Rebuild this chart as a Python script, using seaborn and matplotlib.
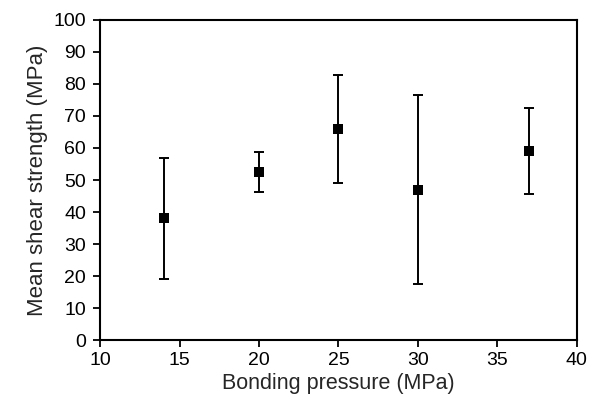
import matplotlib
matplotlib.use("Agg")
import matplotlib.pyplot as plt
import pandas as pd
import seaborn as sns

pressure = [14, 20, 25, 30, 37]
strength = [38, 52.5, 66, 47, 59]
spread = [19, 6.3, 16.8, 29.5, 13.5]

df = pd.DataFrame({"pressure": pressure, "strength": strength, "spread": spread})

sns.set_style("ticks")
plt.rcParams["font.family"] = ["Liberation Sans", "DejaVu Sans"]

fig = plt.figure(figsize=(5.99, 4.05), dpi=100)
ax = fig.add_axes([0.167, 0.160, 0.796, 0.791])

ax.errorbar(df.pressure, df.strength, yerr=df.spread, fmt="none",
            ecolor="black", elinewidth=1.4, capsize=3.3, capthick=1.4, zorder=2)
sns.scatterplot(data=df, x="pressure", y="strength", marker="s", s=42,
                color="black", edgecolor="black", linewidth=0, ax=ax, zorder=3)

ax.set_xlim(10, 40)
ax.set_ylim(0, 100)
ax.set_xticks(range(10, 41, 5))
ax.set_yticks(range(0, 101, 10))
ax.set_xlabel("Bonding pressure (MPa)", fontsize=15.5, labelpad=3)
ax.set_ylabel("Mean shear strength (MPa)", fontsize=16, labelpad=4)
ax.tick_params(labelsize=14, width=1.3, length=5, color="black", labelcolor="black")
ax.tick_params(axis="y", pad=5)
for s in ax.spines.values():
    s.set_linewidth(1.5)
    s.set_color("black")

fig.savefig("out.png", dpi=100)
